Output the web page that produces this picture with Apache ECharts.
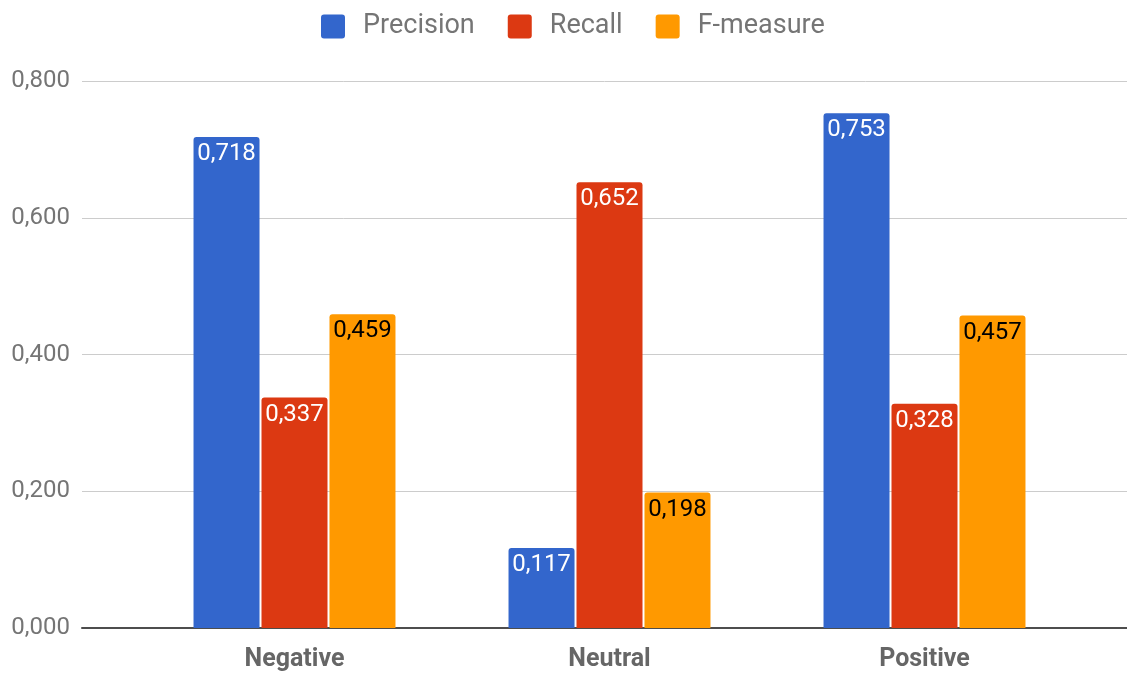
<!DOCTYPE html>
<html>
<head>
<meta charset="utf-8">
<script src="https://cdn.jsdelivr.net/npm/echarts@6/dist/echarts.min.js"></script>
<style>
  html, body { margin: 0; padding: 0; background: #fff; }
  #chart { width: 1127px; height: 673px; }
</style>
</head>
<body>
<div id="chart"></div>
<script>
// Sentiment classes and per-class scores
const categories = ['Negative', 'Neutral', 'Positive'];
const precision = [0.718, 0.117, 0.753];
const recall = [0.337, 0.652, 0.328];
const fMeasure = [0.459, 0.198, 0.457];
const seriesNames = ['Precision', 'Recall', 'F-measure'];
const yTicks = [0, 0.2, 0.4, 0.6, 0.8];

const colors = ['#3366cc', '#dc3912', '#ff9900'];
const FONT = 'Roboto, "Noto Sans", sans-serif';

// Decimal comma, three places
const fmt = v => Number(v).toFixed(3).replace('.', ',');

const yMin = yTicks[0];
const yMax = yTicks[yTicks.length - 1];
const yStep = yTicks[1] - yTicks[0];

// Square legend swatch with slightly rounded corners
const swatch = 'path://M3,0 L21,0 Q24,0 24,3 L24,21 Q24,24 21,24 L3,24 Q0,24 0,21 L0,3 Q0,0 3,0 Z';

function barSeries(name, data, color, labelColor) {
  return {
    name: name,
    type: 'bar',
    xAxisIndex: 1,
    yAxisIndex: 1,
    data: data,
    barWidth: 66,
    barGap: '3%',
    itemStyle: { color: color, borderRadius: [3, 3, 0, 0] },
    label: {
      show: true,
      position: 'insideTop',
      distance: 5,
      color: labelColor,
      fontFamily: FONT,
      fontSize: 24,
      formatter: p => fmt(p.value)
    }
  };
}

const chart = echarts.init(document.getElementById('chart'), null, { renderer: 'canvas' });
chart.setOption({
  animation: false,
  textStyle: { fontFamily: FONT },
  legend: {
    top: 8,
    left: 316,
    itemWidth: 24,
    itemHeight: 24,
    itemGap: 33,
    icon: swatch,
    textStyle: { color: '#757575', fontSize: 27, fontFamily: FONT, padding: [0, 0, 0, 13] },
    data: seriesNames
  },
  grid: [
    // frame with value axis and gridlines across the full width
    { left: 82, right: 0, top: 81, bottom: 45 },
    // category bands for the bars
    { left: 137, width: 945, top: 81, bottom: 45 }
  ],
  xAxis: [
    {
      gridIndex: 0,
      type: 'category',
      data: [''],
      axisLine: { show: true, lineStyle: { color: '#4d4d4d', width: 2 } },
      axisTick: { show: false },
      axisLabel: { show: false },
      splitLine: { show: false }
    },
    {
      gridIndex: 1,
      type: 'category',
      data: categories,
      axisLine: { show: false },
      axisTick: { show: false },
      axisLabel: {
        margin: 19,
        color: '#666666',
        fontSize: 25,
        fontWeight: 'bold',
        fontFamily: FONT
      }
    }
  ],
  yAxis: [
    {
      gridIndex: 0,
      type: 'value',
      min: yMin,
      max: yMax,
      interval: yStep,
      axisLine: { show: false },
      axisTick: { show: false },
      axisLabel: {
        margin: 12,
        color: '#757575',
        fontSize: 24,
        fontFamily: FONT,
        formatter: v => fmt(v)
      },
      splitLine: { lineStyle: { color: '#cccccc', width: 1 } }
    },
    {
      gridIndex: 1,
      type: 'value',
      min: yMin,
      max: yMax,
      interval: yStep,
      show: false,
      splitLine: { show: false }
    }
  ],
  series: [
    barSeries(seriesNames[0], precision, colors[0], '#ffffff'),
    barSeries(seriesNames[1], recall, colors[1], '#ffffff'),
    barSeries(seriesNames[2], fMeasure, colors[2], '#000000')
  ]
});
</script>
</body>
</html>
